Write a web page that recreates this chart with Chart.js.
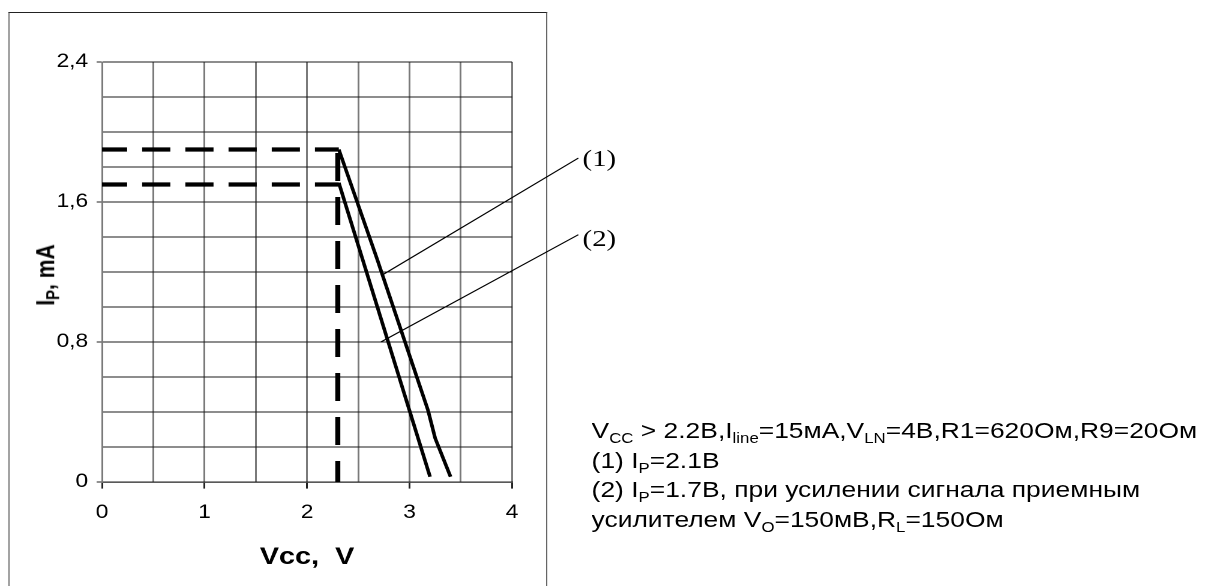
<!DOCTYPE html>
<html>
<head>
<meta charset="utf-8">
<script src="https://cdn.jsdelivr.net/npm/chart.js@4/dist/chart.umd.min.js"></script>
<style>
  body { margin: 0; background: #fff; overflow: hidden; }
  /* the reference is stretched sideways, so draw narrow and widen */
  #wrap { position: relative; width: 1005px; height: 586px; transform: scaleX(1.2); transform-origin: 0 0; }
  #frame { position: absolute; left: 6.5px; top: 12px; width: 447px; height: 600px;
           border-top: 1px solid #222; border-left: 1px solid #666; border-right: 1px solid #666; }
  #chart { position: absolute; left: 0; top: 0; }
  .txt { position: absolute; font-family: "Liberation Sans", Arial, sans-serif; color: #000; white-space: nowrap; }
  .txt sub { font-size: 14px; vertical-align: -5px; line-height: 0; }
  .lbl { position: absolute; font-family: "Liberation Serif", "Times New Roman", serif; font-size: 24px; line-height: 26px; }
  #ytitle { left: 37.5px; top: 275px; font-size: 21px; font-weight: bold;
            transform: translate(-50%, -50%) rotate(-90deg); }
  #ytitle sub { font-size: 15px; vertical-align: -4px; }
  #notes { left: 493px; top: 416px; font-size: 22px; line-height: 29.5px; }
</style>
</head>
<body>
<div id="wrap">
  <div id="frame"></div>
  <canvas id="chart" width="1005" height="586"></canvas>
  <div class="txt" id="ytitle">I<sub>P</sub>, mA</div>
  <div class="lbl" style="left:485.5px;top:145px">(1)</div>
  <div class="lbl" style="left:485.5px;top:225px">(2)</div>
  <div class="txt" id="notes">
    V<sub>CC</sub> &gt; 2.2В,I<sub>line</sub>=15мА,V<sub>LN</sub>=4В,R1=620Ом,R9=20Ом<br>
    (1) I<sub>P</sub>=2.1В<br>
    (2) I<sub>P</sub>=1.7В, при усилении сигнала приемным<br>
    усилителем V<sub>O</sub>=150мВ,R<sub>L</sub>=150Ом
  </div>
</div>
<script>
// values
var curve1V = [2.31, 2.68, 3.18, 3.25, 3.4];
var curve1I = [1.9, 1.28, 0.41, 0.25, 0.03];
var curve2V = [2.31, 3.2];
var curve2I = [1.71, 0.03];
var kneeV = 2.3;
var level1 = 1.9;
var level2 = 1.7;
var lead1V = [2.74, 4.647];
var lead1I = [1.185, 1.851];
var lead2V = [2.72, 4.647];
var lead2I = [0.80, 1.413];
var xMin = 0, xMax = 4, xStep = 0.5;
var yMin = 0, yMax = 2.4, yStep = 0.2, yLabelStep = 0.8;

function pts(xs, ys) {
    return xs.map(function(x, i) { return {x: x, y: ys[i]}; });
}

function isMult(v, step) {
    return Math.abs(v / step - Math.round(v / step)) < 1e-6;
}

var font = "'Liberation Sans', Arial, sans-serif";

function line(data, width, dash, clip) {
    return {
        data: data,
        showLine: true,
        borderColor: '#000',
        borderWidth: width,
        borderDash: dash || [],
        pointRadius: 0,
        tension: 0,
        clip: clip ? false : undefined
    };
}

var ctx = document.getElementById('chart').getContext('2d');

var chart = new Chart(ctx, {
    type: 'scatter',
    data: {
        datasets: [
            line(pts([xMin - 0.03, kneeV + 0.01], [level1, level1]), 4.3, [23.5, 12.5]),
            line(pts([xMin - 0.03, kneeV + 0.01], [level2, level2]), 4.3, [23.5, 12.5]),
            line(pts([kneeV, kneeV], [level1 - 0.02, yMin - 0.01]), 4.2, [28, 16]),
            line(pts(curve1V, curve1I), 3),
            line(pts(curve2V, curve2I), 3),
            line(pts(lead1V, lead1I), 1.1, null, true),
            line(pts(lead2V, lead2I), 1.1, null, true)
        ]
    },
    options: {
        responsive: false,
        animation: false,
        devicePixelRatio: 2,
        layout: { padding: { left: 0, top: 62, right: 578.3, bottom: 0 } },
        plugins: { legend: { display: false }, tooltip: { enabled: false } },
        scales: {
            x: {
                type: 'linear',
                min: xMin,
                max: xMax,
                afterFit: function(scale) { scale.height = 104; },
                ticks: {
                    stepSize: xStep,
                    autoSkip: false,
                    maxRotation: 0,
                    padding: 13,
                    color: '#000',
                    font: { family: font, size: 19 },
                    callback: function(v) { return isMult(v, 1) ? String(v) : ''; }
                },
                grid: {
                    color: '#7a7a7a',
                    lineWidth: 1.5,
                    tickLength: 6.6,
                    tickColor: function(c) {
                        return c.tick && isMult(c.tick.value, 1) ? '#222' : 'rgba(0,0,0,0)';
                    }
                },
                border: { color: '#222', width: 1.3 },
                title: {
                    display: true,
                    text: 'Vcc,  V',
                    color: '#000',
                    font: { family: font, size: 24, weight: 'bold' },
                    padding: { top: 0, bottom: 14 }
                }
            },
            y: {
                type: 'linear',
                min: yMin,
                max: yMax,
                afterFit: function(scale) { scale.width = 85; },
                ticks: {
                    stepSize: yStep,
                    autoSkip: false,
                    padding: 7,
                    color: '#000',
                    font: { family: font, size: 19 },
                    callback: function(v) {
                        if (!isMult(v, yLabelStep)) return '';
                        return v === 0 ? '0' : v.toFixed(1).replace('.', ',');
                    }
                },
                grid: {
                    color: '#1a1a1a',
                    lineWidth: 1,
                    tickLength: 4.5,
                    tickColor: function(c) {
                        return c.tick && isMult(c.tick.value, yLabelStep) ? '#222' : 'rgba(0,0,0,0)';
                    }
                },
                border: { color: '#7a7a7a', width: 1.5 }
            }
        }
    }
});
</script>
</body>
</html>
